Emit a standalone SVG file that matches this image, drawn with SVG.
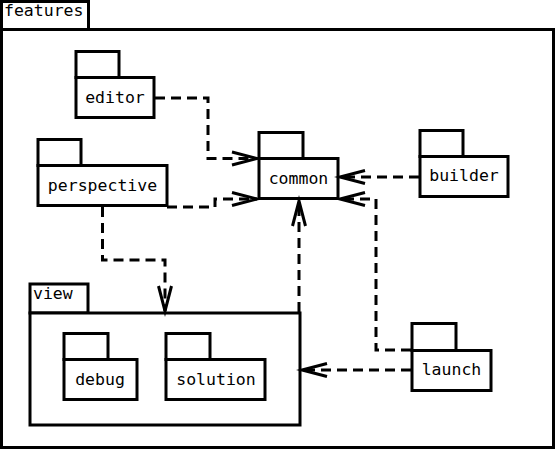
<svg xmlns="http://www.w3.org/2000/svg" width="555" height="450" viewBox="0 0 555 450">
<style>
.b{fill:#fff;stroke:#000;stroke-width:3}
.t{font-family:"DejaVu Sans Mono",monospace;font-size:16.5px;fill:#000}
.c{text-anchor:middle}
.e{fill:none;stroke:#000;stroke-width:3;stroke-dasharray:10,6}
</style>
<defs>
<marker id="a" markerUnits="userSpaceOnUse" markerWidth="30" markerHeight="20" refX="0" refY="0" viewBox="-27 -10 30 20" orient="auto" overflow="visible">
<path d="M-25,-6.5 L0,0 L-25,6.5" fill="none" stroke="#000" stroke-width="3"/>
</marker>
</defs>
<rect width="555" height="450" fill="#fff"/>
<g id="features">
<rect class="b" x="1.5" y="1.5" width="87" height="28"/>
<rect class="b" x="1.5" y="29.5" width="552" height="418"/>
<text class="t" x="4" y="16">features</text>
</g>
<g id="editor">
<rect class="b" x="76" y="51.5" width="43" height="26"/>
<rect class="b" x="76" y="77.5" width="78" height="40"/>
<text class="t c" x="115" y="103">editor</text>
</g>
<g id="common">
<rect class="b" x="259" y="132.5" width="44" height="26"/>
<rect class="b" x="259" y="158.5" width="79" height="40"/>
<text class="t c" x="298.5" y="184">common</text>
</g>
<g id="builder">
<rect class="b" x="420" y="130.5" width="43" height="26"/>
<rect class="b" x="420" y="156.5" width="88" height="40"/>
<text class="t c" x="464" y="181">builder</text>
</g>
<g id="perspective">
<rect class="b" x="38" y="139.5" width="43" height="26"/>
<rect class="b" x="38" y="165.5" width="129" height="40"/>
<text class="t c" x="102.5" y="191">perspective</text>
</g>
<g id="view">
<rect class="b" x="30" y="284" width="58" height="29"/>
<rect class="b" x="30" y="313" width="270" height="112"/>
<text class="t" x="33" y="299">view</text>
</g>
<g id="debug">
<rect class="b" x="64" y="333.5" width="44" height="26"/>
<rect class="b" x="64" y="359.5" width="73" height="40"/>
<text class="t c" x="100" y="385">debug</text>
</g>
<g id="solution">
<rect class="b" x="166" y="333.5" width="44" height="26"/>
<rect class="b" x="166" y="359.5" width="99" height="40"/>
<text class="t c" x="216" y="385">solution</text>
</g>
<g id="launch">
<rect class="b" x="412" y="323.5" width="44" height="27"/>
<rect class="b" x="412" y="350.5" width="79" height="40"/>
<text class="t c" x="451.5" y="375">launch</text>
</g>
<g id="connectors">
<polyline class="e" points="155,98 208,98 208,158.5 257,158.5" marker-end="url(#a)"/>
<polyline class="e" points="167,207 215,207 215,199 257,199" marker-end="url(#a)"/>
<polyline class="e" points="102.5,207 102.5,260 165,260 165,311" marker-end="url(#a)"/>
<polyline class="e" points="299,312 299,201" marker-end="url(#a)"/>
<polyline class="e" points="419,177 340,177" marker-end="url(#a)"/>
<polyline class="e" points="411,350 376,350 376,199 340,199" marker-end="url(#a)"/>
<polyline class="e" points="411,370 302,370" marker-end="url(#a)"/>
</g>
</svg>
